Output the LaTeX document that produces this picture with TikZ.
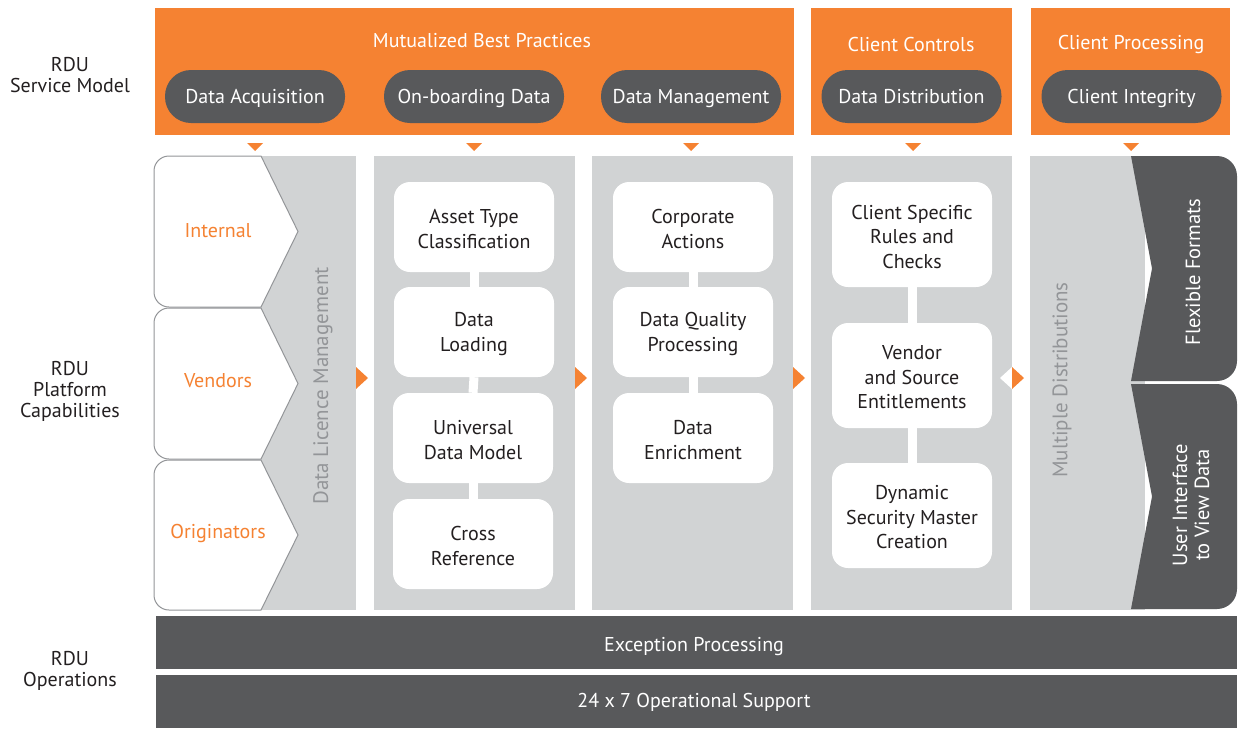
\documentclass[tikz,border=0pt]{standalone}
\usepackage{fontspec}
\setmainfont{PT Sans}
\definecolor{rduorange}{HTML}{F58232}
\definecolor{rdudark}{HTML}{58595B}
\definecolor{rdugray}{HTML}{D1D3D4}
\definecolor{rdutext}{HTML}{231F20}
\definecolor{rduline}{HTML}{939598}
\begin{document}
\begin{tikzpicture}[x=1pt,y=-1pt,
  hdr/.style={fill=rduorange, inner sep=0, minimum height=127pt},
  hdrtext/.style={text=white, font=\fontsize{20}{22}\selectfont, inner sep=0},
  pill/.style={fill=rdudark, text=white, rounded corners=26pt, minimum width=180pt, minimum height=53pt, font=\fontsize{20}{22}\selectfont, inner sep=0, text depth=0pt, text height=14pt},
  col/.style={fill=rdugray, inner sep=0, minimum height=454pt},
  wbox/.style={fill=white, rounded corners=16pt, minimum width=160pt, minimum height=90pt, inner sep=0},
  tallbox/.style={wbox, minimum height=105pt},
  wtext/.style={align=center, text=rdutext, font=\fontsize{20}{24.5}\selectfont, inner sep=0},
  link/.style={white, line width=9pt},
  lbl/.style={align=center, text=rdutext, font=\fontsize{20}{21}\selectfont, inner sep=0},
  srclbl/.style={text=rduorange, font=\fontsize{20}{22}\selectfont, inner sep=0},
  vlbl/.style={rotate=90, text=rduline, font=\fontsize{21}{22}\selectfont, inner sep=0},
  dlbl/.style={rotate=90, align=center, text=white, font=\fontsize{20.5}{22}\selectfont, inner sep=0},
  bar/.style={fill=rdudark, minimum width=1081pt, minimum height=53pt, inner sep=0},
  bartext/.style={text=white, font=\fontsize{20}{22}\selectfont, inner sep=0},
  chev/.style={draw=rduline, fill=white, line width=1pt},
  tri/.style={fill=rduorange}
]
\useasboundingbox (0,0) rectangle (1241,731);

% left labels
\node[lbl] (lsm) at (70,75) {RDU\\Service Model};
\node[lbl] (lpc) at (70,391) {RDU\\Platform\\Capabilities};
\node[lbl] (lop) at (70,671) {RDU\\Operations};

% header boxes
\node[hdr, minimum width=639pt] (h1) at (474.5,71.5) {};
\node[hdr, minimum width=201pt] (h2) at (911.5,71.5) {};
\node[hdr, minimum width=199pt] (h3) at (1130.5,71.5) {};
\node[hdrtext] (t1) at (482,41) {Mutualized Best Practices};
\node[hdrtext] (t2) at (911,44) {Client Controls};
\node[hdrtext] (t3) at (1131,44) {Client Processing};

\node[pill] (p1) at (255,96.5) {Data Acquisition};
\node[pill] (p2) at (474,96.5) {On-boarding Data};
\node[pill] (p3) at (691,96.5) {Data Management};
\node[pill] (p4) at (911.5,96.5) {Data Distribution};
\node[pill] (p5) at (1131.5,96.5) {Client Integrity};

% down triangles
\foreach \x in {255,474,691,913,1131}
  \fill[tri] (\x-8,143) -- (\x+8,143) -- (\x,151) -- cycle;

% gray columns
\node[col, minimum width=156pt] (c1) at (278,383) {};
\node[col, minimum width=201pt] (c2) at (474.5,383) {};
\node[col, minimum width=201pt] (c3) at (692.5,383) {};
\node[col, minimum width=201pt] (c4) at (911.5,383) {};
\node[col, minimum width=115pt] (c5) at (1087.5,383) {};

% chevrons (sources)
\draw[chev] (261,156) -- (298,231.5) -- (261,307) [rounded corners=15pt] -- (154,307) -- (154,156) [sharp corners] -- cycle;
\draw[chev] (261,308) -- (298,383.5) -- (261,459) [rounded corners=15pt] -- (154,459) -- (154,308) [sharp corners] -- cycle;
\draw[chev] (261,460) -- (298,535) -- (261,610) [rounded corners=15pt] -- (154,610) -- (154,460) [sharp corners] -- cycle;
\node[srclbl] (s1) at (218,231) {Internal};
\node[srclbl] (s2) at (218,381) {Vendors};
\node[srclbl] (s3) at (218,533) {Originators};

\node[vlbl] (v1) at (323,386) {Data Licence Management};
\node[vlbl] (v2) at (1062,380) {Multiple Distributions};

% dark output shapes
\fill[rdudark] (1131,156) -- (1152,268.5) -- (1131,381) [rounded corners=20pt] -- (1237,381) -- (1237,156) [sharp corners] -- cycle;
\fill[rdudark] (1131,384) -- (1152,496.5) -- (1131,609) [rounded corners=20pt] -- (1237,609) -- (1237,384) [sharp corners] -- cycle;
\node[dlbl] (o1) at (1193,272) {Flexible Formats};
\node[dlbl] (o2) at (1191,505) {User Interface\\to View Data};

% column 2 boxes
\node[wbox] (a1) at (474,227) {};
\node[wbox] (a2) at (474,332) {};
\node[wbox] (a3) at (473,438) {};
\node[wbox] (a4) at (473,544) {};
\node[wtext] (a1t) at (474,229) {Asset Type\\Classification};
\node[wtext] (a2t) at (474,334) {Data\\Loading};
\node[wtext] (a3t) at (473,440) {Universal\\Data Model};
\node[wtext] (a4t) at (473,546) {Cross\\Reference};
\draw[link] (a1.south) -- (a2.north);
\draw[link] (a2.south) -- (a3.north);
\draw[link] (a3.south) -- (a4.north);

% column 3 boxes
\node[wbox] (b1) at (693,227) {};
\node[wbox] (b2) at (693,332) {};
\node[wbox] (b3) at (693,438) {};
\node[wtext] (b1t) at (693,229) {Corporate\\Actions};
\node[wtext] (b2t) at (693,334) {Data Quality\\Processing};
\node[wtext] (b3t) at (693,440) {Data\\Enrichment};
\draw[link] (b1.south) -- (b2.north);
\draw[link] (b2.south) -- (b3.north);

% column 4 boxes
\node[tallbox] (d1) at (912,234.5) {};
\node[tallbox] (d2) at (912,375.5) {};
\node[tallbox] (d3) at (912,515.5) {};
\node[wtext] (d1t) at (912,236.5) {Client Specific\\Rules and\\Checks};
\node[wtext] (d2t) at (912,377.5) {Vendor\\and Source\\Entitlements};
\node[wtext] (d3t) at (912,517.5) {Dynamic\\Security Master\\Creation};
\draw[link] (d1.south) -- (d2.north);
\draw[link] (d2.south) -- (d3.north);

% right triangles between columns
\fill[tri] (356,367) -- (368,378) -- (356,389) -- cycle;
\fill[tri] (575,367) -- (587,378) -- (575,389) -- cycle;
\fill[tri] (793,367) -- (805,378) -- (793,389) -- cycle;
\fill[white] (1012,367) -- (1000,378) -- (1012,389) -- cycle;
\fill[tri] (1012,367) -- (1024,378) -- (1012,389) -- cycle;

% bottom bars
\node[bar] (e1) at (696.5,642.5) {};
\node[bar] (e2) at (696.5,701) {};
\node[bartext] (e1t) at (694,647) {Exception Processing};
\node[bartext] (e2t) at (694,702) {24 x 7 Operational Support};
\end{tikzpicture}
\end{document}
